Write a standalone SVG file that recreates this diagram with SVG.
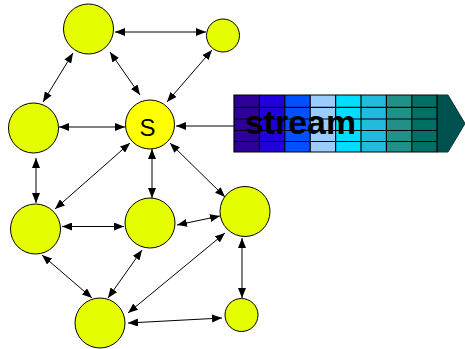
<svg xmlns="http://www.w3.org/2000/svg" width="465" height="349" viewBox="0 0 465 349">
<style>
.n{fill:#E6FF00;stroke:#000;stroke-width:1}
.s{fill:#FFFF00;stroke:#000;stroke-width:1}
.e{stroke:#000;stroke-width:1;fill:none;marker-end:url(#ah)}
.b{marker-start:url(#ah)}
.g{stroke:#000;stroke-width:1.2;fill:none}
</style>
<defs>
<marker id="ah" viewBox="0 0 10 8" refX="10" refY="4" markerWidth="10" markerHeight="8" markerUnits="userSpaceOnUse" orient="auto-start-reverse">
<path d="M0,0 L10,4 L0,8 z" fill="#000"/>
</marker>
</defs>
<rect width="465" height="349" fill="#fff"/>
<g id="connectors">
<line class="e b" x1="115" y1="32" x2="206" y2="32"/>
<line class="e b" x1="73" y1="53" x2="43" y2="102"/>
<line class="e b" x1="110" y1="52" x2="140" y2="95"/>
<line class="e b" x1="212" y1="50" x2="167" y2="102"/>
<line class="e b" x1="59" y1="127" x2="125" y2="127"/>
<line class="e" x1="234" y1="126" x2="176" y2="126"/>
<line class="e b" x1="36" y1="158" x2="36" y2="203"/>
<line class="e b" x1="130" y1="143" x2="55" y2="209"/>
<line class="e b" x1="152" y1="149" x2="152" y2="198"/>
<line class="e b" x1="170" y1="143" x2="225" y2="197"/>
<line class="e b" x1="62" y1="226.5" x2="124" y2="226.5"/>
<line class="e b" x1="177" y1="225" x2="220" y2="216"/>
<line class="e b" x1="42" y1="255" x2="92" y2="298"/>
<line class="e b" x1="142" y1="250" x2="108" y2="298"/>
<line class="e b" x1="225" y1="233" x2="128" y2="313"/>
<line class="e b" x1="242" y1="238" x2="242" y2="298"/>
<line class="e b" x1="128" y1="323" x2="222" y2="318"/>
</g>
<g id="nA"><circle class="n" cx="88.5" cy="29" r="25"/></g>
<g id="nB"><circle class="n" cx="223" cy="35.5" r="16.5"/></g>
<g id="nC"><circle class="n" cx="33.5" cy="128" r="25"/></g>
<g id="nS"><circle class="s" cx="150" cy="124.5" r="24.5"/>
<text x="147.5" y="136" font-family="Liberation Sans, Arial, sans-serif" font-size="24" text-anchor="middle" fill="#000">S</text></g>
<g id="nD"><circle class="n" cx="35.5" cy="229" r="25"/></g>
<g id="nE"><circle class="n" cx="150" cy="223" r="25"/></g>
<g id="nF"><circle class="n" cx="245" cy="211.5" r="25"/></g>
<g id="nG"><circle class="n" cx="100" cy="323" r="25"/></g>
<g id="nH"><circle class="n" cx="241.5" cy="315" r="16.5"/></g>
<g id="stream">
<polygon points="437,95 448,95 465,123.5 448,152 437,152" fill="#005050" stroke="#003C3C" stroke-width="1"/>
<rect x="234" y="95" width="25.4" height="57" fill="#2E0099"/>
<rect x="259.4" y="95" width="25.4" height="57" fill="#2200DD"/>
<rect x="284.8" y="95" width="25.4" height="57" fill="#0050FF"/>
<rect x="310.2" y="95" width="25.4" height="57" fill="#99CCFF"/>
<rect x="335.6" y="95" width="25.4" height="57" fill="#00DDFF"/>
<rect x="361" y="95" width="25.4" height="57" fill="#22BBDD"/>
<rect x="386.4" y="95" width="25.4" height="57" fill="#209088"/>
<rect x="411.8" y="95" width="25.2" height="57" fill="#007066"/>
<path class="g" d="M234,95H437V152H234Z M234,107.3H437 M234,119H437 M234,130.5H437 M234,141.5H437 M259.4,95V152 M284.8,95V152 M310.2,95V152 M335.6,95V152 M361,95V152 M386.4,95V152 M411.8,95V152"/>
<text x="245" y="134" font-family="Liberation Sans, Arial, sans-serif" font-size="33" font-weight="bold" fill="#000" textLength="111" lengthAdjust="spacingAndGlyphs">stream</text>
</g>
</svg>
